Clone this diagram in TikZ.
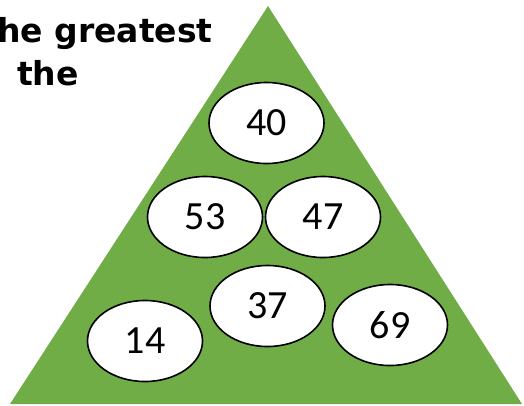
\documentclass[tikz,border=0pt]{standalone}
\usepackage{fontspec}
\setmainfont{Carlito}
\newfontfamily\titlefont{DejaVu Sans}
\usetikzlibrary{shapes.geometric}
\definecolor{tri}{HTML}{70AD47}
\begin{document}
\begin{tikzpicture}[x=1pt,y=-1pt,
  numoval/.style={ellipse,draw=black,line width=1.6pt,fill=white,minimum width=115pt,minimum height=81pt,inner sep=0pt,font=\fontsize{40}{44}\selectfont},
  title/.style={font=\titlefont\bfseries\fontsize{33}{37}\selectfont,inner sep=0pt}]
\useasboundingbox (0,0) rectangle (524,405);
\clip (0,0) rectangle (524,405);
\fill[tri] (268,6) -- (522,404) -- (10,404) -- cycle;
\node[title,anchor=base east] (t1) at (213,42) {the greatest};
\node[title,anchor=base west] (t2) at (17,85) {the};
\node[numoval] (n40) at (266.5,123) {40};
\node[numoval] (n53) at (205,217) {53};
\node[numoval] (n47) at (323,217) {47};
\node[numoval] (n37) at (267.5,306) {37};
\node[numoval] (n14) at (145,341) {14};
\node[numoval] (n69) at (390,325) {69};
\end{tikzpicture}
\end{document}
